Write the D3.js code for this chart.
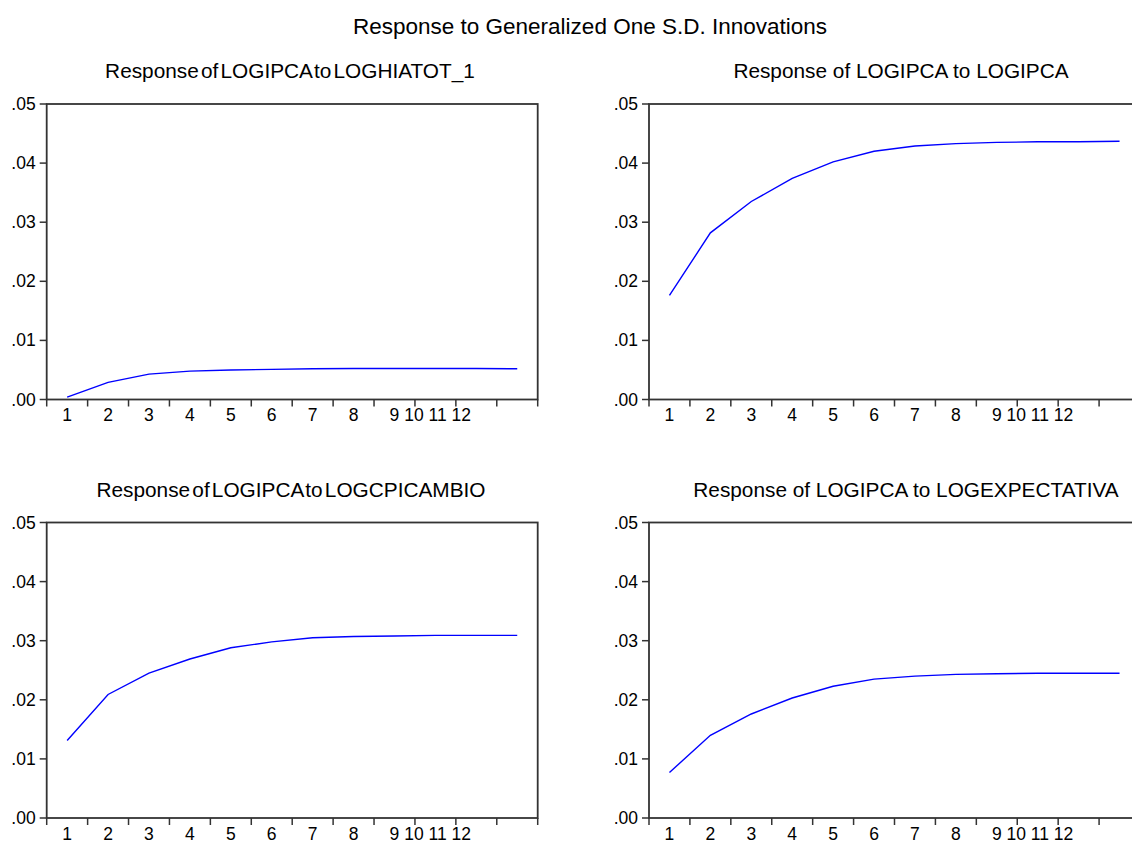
<!DOCTYPE html>
<html>
<head>
<meta charset="utf-8">
<script src="https://cdn.jsdelivr.net/npm/d3@7"></script>
<style>
  body { margin: 0; background: #fff; }
  svg { display: block; font-family: "Liberation Sans", Arial, sans-serif; }
</style>
</head>
<body>
<div id="chart"></div>
<script>
// impulse responses of LOGIPCA, periods 1..12
var periods = [1, 2, 3, 4, 5, 6, 7, 8, 9, 10, 11, 12];
var respHiatot = [0.0004, 0.0029, 0.0043, 0.0048, 0.0050, 0.0051, 0.0052, 0.00525, 0.00525, 0.00525, 0.00525, 0.0052];
var respIpca = [0.0176, 0.0282, 0.0335, 0.0374, 0.0402, 0.0420, 0.0429, 0.0433, 0.0435, 0.0436, 0.0436, 0.0437];
var respCambio = [0.0131, 0.0209, 0.0245, 0.0269, 0.0288, 0.0298, 0.0305, 0.0307, 0.0308, 0.0309, 0.0309, 0.0309];
var respExpect = [0.0077, 0.0140, 0.0176, 0.0203, 0.0223, 0.0235, 0.0240, 0.0243, 0.0244, 0.0245, 0.0245, 0.0245];
var yTicks = [0, 0.01, 0.02, 0.03, 0.04, 0.05];
var xTickLabels = ["1", "2", "3", "4", "5", "6", "7", "8"];
var xTickTail = "9 10 11 12"; // eviews crams these together

var mainTitle = "Response to Generalized One S.D. Innovations";
var panelTitles = ["Response of LOGIPCA to LOGHIATOT_1", "Response of LOGIPCA to LOGIPCA",
                   "Response of LOGIPCA to LOGCPICAMBIO", "Response of LOGIPCA to LOGEXPECTATIVA"];
var panelSeries = [respHiatot, respIpca, respCambio, respExpect];

var W = 1132, H = 843;
var panelW = 491, panelH = 295.5;
var panelX = [46.7, 649, 46.7, 649],
    panelY = [104, 104, 522.5, 522.5],
    titleX = [290, 901, 291, 906],
    tightTitle = [true, false, true, false];

var svg = d3.select("#chart").append("svg")
    .attr("width", W)
    .attr("height", H);

svg.append("text")
    .attr("x", 590)
    .attr("y", 34)
    .attr("text-anchor", "middle")
    .style("font-size", "22.5px")
    .attr("fill", "#000")
    .text(mainTitle);

var x = d3.scaleBand().domain(periods).range([0, panelW]).padding(0);
var y = d3.scaleLinear().domain([0, 0.05]).range([panelH, 0]);
var fmt = function(d) { return d3.format(".2f")(d).replace(/^0/, ""); };

panelSeries.forEach(function(series, i) {
    var g = svg.append("g")
        .attr("transform", "translate(" + panelX[i] + "," + panelY[i] + ")");

    var t = g.append("text")
        .attr("x", titleX[i] - panelX[i])
        .attr("y", -26)
        .attr("text-anchor", "middle")
        .style("font-size", "20.8px")
        .attr("fill", "#000")
        .text(panelTitles[i]);
    if (tightTitle[i]) t.style("word-spacing", "-3.6px");

    // frame
    g.append("rect")
        .attr("x", 0).attr("y", 0)
        .attr("width", panelW).attr("height", panelH)
        .attr("fill", "none")
        .attr("stroke", "#333")
        .attr("stroke-width", 1.8);

    // y axis
    var yAxis = g.append("g");
    yAxis.selectAll("line")
        .data(yTicks)
        .enter().append("line")
        .attr("x1", -7).attr("x2", 0)
        .attr("y1", function(d) { return y(d); })
        .attr("y2", function(d) { return y(d); })
        .attr("stroke", "#333")
        .attr("stroke-width", 1.5);
    yAxis.selectAll("text")
        .data(yTicks)
        .enter().append("text")
        .attr("x", -11)
        .attr("y", function(d) { return y(d) + 6; })
        .attr("text-anchor", "end")
        .style("font-size", "17.5px")
        .attr("fill", "#000")
        .text(fmt);

    // x axis: ticks at band edges
    var edges = periods.map(function(p) { return x(p); }).concat([panelW]);
    var xAxis = g.append("g").attr("transform", "translate(0," + panelH + ")");
    xAxis.selectAll("line")
        .data(edges)
        .enter().append("line")
        .attr("x1", function(d) { return d; })
        .attr("x2", function(d) { return d; })
        .attr("y1", 0).attr("y2", 7)
        .attr("stroke", "#333")
        .attr("stroke-width", 1.5);
    xAxis.selectAll("text.lab")
        .data(xTickLabels)
        .enter().append("text")
        .attr("class", "lab")
        .attr("x", function(d) { return x(+d) + x.bandwidth() / 2; })
        .attr("y", 21.5)
        .attr("text-anchor", "middle")
        .style("font-size", "17.5px")
        .attr("fill", "#000")
        .text(function(d) { return d; });
    xAxis.append("text")
        .attr("x", x(9) + x.bandwidth() / 2)
        .attr("dx", "-0.278em")
        .attr("y", 21.5)
        .attr("text-anchor", "start")
        .style("font-size", "17.5px")
        .attr("fill", "#000")
        .text(xTickTail);

    var line = d3.line()
        .x(function(d, j) { return x(periods[j]) + x.bandwidth() / 2; })
        .y(function(d) { return y(d); });

    g.append("path")
        .datum(series)
        .attr("d", line)
        .attr("fill", "none")
        .attr("stroke", "#0000ff")
        .attr("stroke-width", 1.4);
});
</script>
</body>
</html>
